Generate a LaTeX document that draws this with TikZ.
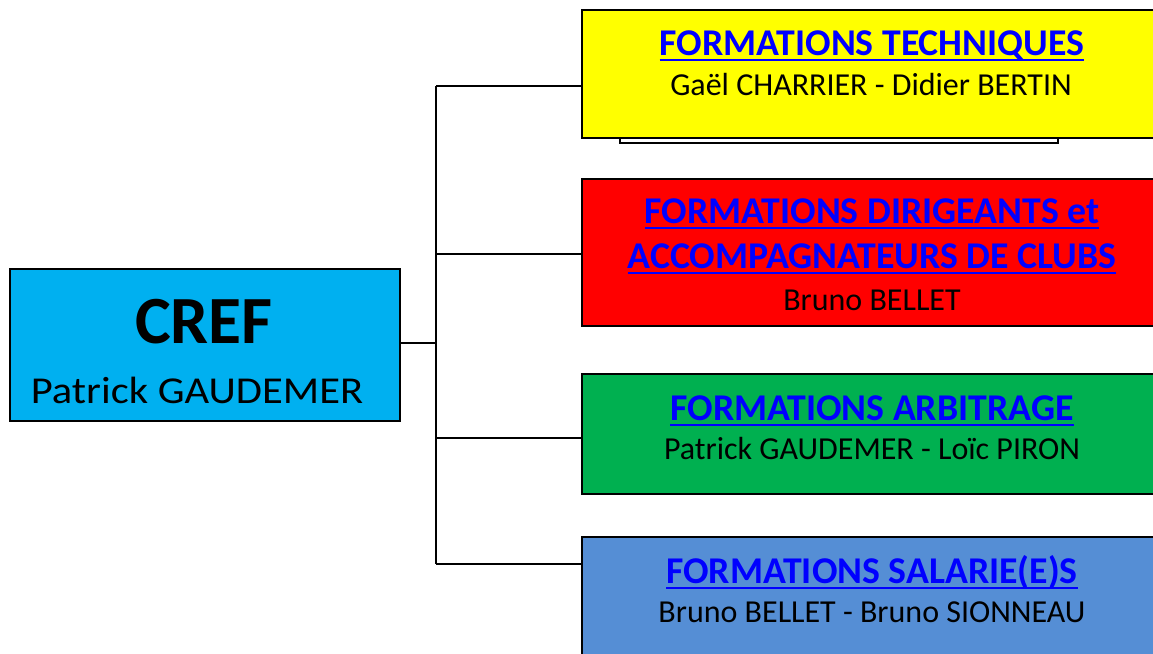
\documentclass[tikz,border=0pt]{standalone}
\usepackage{fontspec}
\setmainfont{Carlito}
\definecolor{crefcyan}{HTML}{00B0F0}
\definecolor{techyellow}{HTML}{FFFF00}
\definecolor{dirred}{HTML}{FF0000}
\definecolor{arbgreen}{HTML}{00B050}
\definecolor{salblue}{HTML}{558ED5}
\definecolor{linkblue}{HTML}{0000FF}
\begin{document}
\begin{tikzpicture}[x=1pt,y=-1pt,
  box/.style={draw=black, line width=1.5pt, rectangle, inner sep=0pt, anchor=north west},
  ttl/.style={inner sep=0pt, anchor=base, text=linkblue, font=\fontsize{37.8}{44}\selectfont\bfseries},
  who/.style={inner sep=0pt, anchor=base, text=black, font=\fontsize{32}{38}\selectfont},
  uline/.style={linkblue, line width=2pt},
  conn/.style={draw=black, line width=1.3pt}]
\useasboundingbox (0,0) rectangle (1153,653);
\clip (0,0) rectangle (1153,653);
\fill[white] (0,0) rectangle (1153,653);
% back rectangle behind yellow box
\node[box, fill=white, minimum width=438pt, minimum height=42pt] (back) at (619,100) {};
% boxes
\node[box, fill=crefcyan, minimum width=390pt, minimum height=152pt] (cref) at (9,268) {};
\node[box, fill=techyellow, minimum width=590pt, minimum height=128pt] (tech) at (581,9) {};
\node[box, fill=dirred, minimum width=590pt, minimum height=147pt] (dir) at (581,178) {};
\node[box, fill=arbgreen, minimum width=590pt, minimum height=120pt] (arb) at (581,373) {};
\node[box, fill=salblue, minimum width=590pt, minimum height=130pt] (sal) at (581,536) {};
% connectors
\coordinate (j0) at (436,343);
\coordinate (j1) at (436,86);
\coordinate (j2) at (436,254);
\coordinate (j3) at (436,438);
\coordinate (j4) at (436,564);
\draw[conn] (cref.east |- j0) -- (j0);
\draw[conn] (j1) -- (j4);
\draw[conn] (j1) -- (tech.west |- j1);
\draw[conn] (j2) -- (dir.west |- j2);
\draw[conn] (j3) -- (arb.west |- j3);
\draw[conn] (j4) -- (sal.west |- j4);
% CREF text
\node[inner sep=0pt, anchor=base, font=\fontsize{67.5}{80}\selectfont\bfseries] (crefT) at (204,343) {CREF};
\node[inner sep=0pt, anchor=base, font=\fontsize{38}{45}\selectfont] (crefN) at (197,403) {\scalebox{1.12}[1]{Patrick GAUDEMER}};
% tech
\node[ttl] (techT) at (872,55) {FORMATIONS TECHNIQUES};
\draw[uline] ([yshift=-5pt]techT.base west) -- ([yshift=-5pt]techT.base east);
\node[who] (techN) at (871,95) {Gaël CHARRIER - Didier BERTIN};
% dir
\node[ttl] (dirT1) at (872,223) {FORMATIONS DIRIGEANTS et\ };
\draw[uline] ([yshift=-5pt]dirT1.base west) -- ([yshift=-5pt]dirT1.base east);
\node[ttl] (dirT2) at (872,268) {ACCOMPAGNATEURS DE CLUBS};
\draw[uline] ([yshift=-5pt]dirT2.base west) -- ([yshift=-5pt]dirT2.base east);
\node[who] (dirN) at (872,310) {Bruno BELLET};
% arb
\node[ttl] (arbT) at (872,420) {FORMATIONS ARBITRAGE};
\draw[uline] ([yshift=-5pt]arbT.base west) -- ([yshift=-5pt]arbT.base east);
\node[who] (arbN) at (872,459) {Patrick GAUDEMER - Loïc PIRON};
% sal
\node[ttl] (salT) at (872,583) {FORMATIONS SALARIE(E)S};
\draw[uline] ([yshift=-5pt]salT.base west) -- ([yshift=-5pt]salT.base east);
\node[who] (salN) at (872,622) {Bruno BELLET - Bruno SIONNEAU};
\end{tikzpicture}
\end{document}
